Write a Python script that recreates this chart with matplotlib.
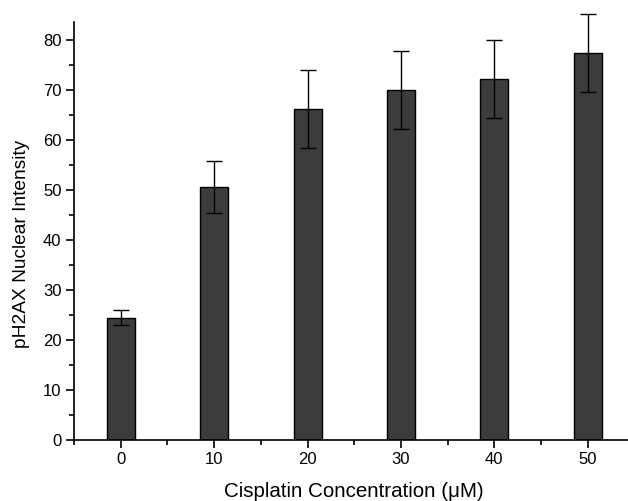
import matplotlib
matplotlib.use("Agg")
import matplotlib.pyplot as plt
from matplotlib.ticker import MultipleLocator

plt.rcParams['font.family'] = ['Liberation Sans', 'DejaVu Sans']

conc = [0, 10, 20, 30, 40, 50]
intensity = [24.4, 50.5, 66.2, 70.0, 72.2, 77.3]
err = [1.5, 5.2, 7.8, 7.8, 7.8, 7.8]

fig = plt.figure(figsize=(6.28, 5.01), dpi=100)
ax = fig.add_axes([0.118, 0.122, 0.892, 0.834])

ax.bar(conc, intensity, width=3.0, color='#3c3c3c', edgecolor='black', linewidth=1.0)
ax.errorbar(conc, intensity, yerr=err, fmt='none', ecolor='black',
            elinewidth=1.0, capsize=5.5, capthick=1.0, clip_on=False)

ax.set_xlim(-5, 55)
ax.set_ylim(0, 83.5)
ax.spines['top'].set_visible(False)
ax.spines['right'].set_visible(False)
ax.spines['left'].set_linewidth(1.2)
ax.spines['bottom'].set_linewidth(1.2)

ax.set_xticks(conc)
ax.xaxis.set_minor_locator(MultipleLocator(5))
ax.yaxis.set_major_locator(MultipleLocator(10))
ax.yaxis.set_minor_locator(MultipleLocator(5))
ax.tick_params(which='major', direction='out', length=6, width=1.2, labelsize=12, pad=3)
ax.tick_params(which='minor', direction='out', length=3.5, width=1.2)

ax.set_xlabel('Cisplatin Concentration (\u03bcM)', fontsize=14.8)
ax.set_ylabel('pH2AX Nuclear Intensity', fontsize=13.8)
ax.xaxis.set_label_coords(0.5, -0.100)
ax.yaxis.set_label_coords(-0.079, 0.47)

fig.savefig('out.png', dpi=100)
